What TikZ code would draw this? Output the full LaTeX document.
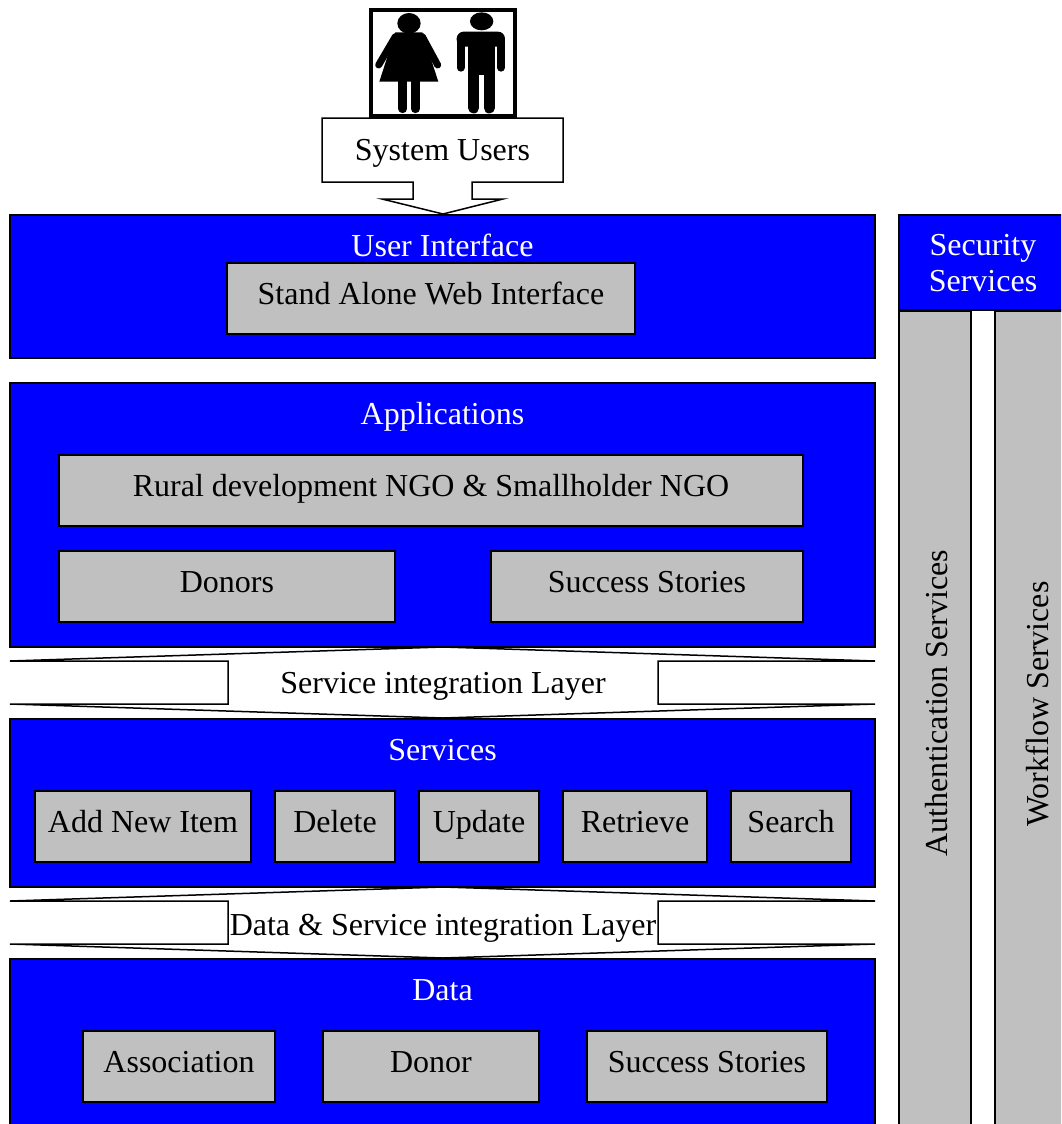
\documentclass[tikz,border=0pt]{standalone}
\usepackage{fontspec}
\setmainfont{Liberation Serif}
\begin{document}
\begin{tikzpicture}[x=1pt, y=-1pt,
    layerbox/.style={draw=black, line width=1.8pt, fill=blue, minimum width=865pt, inner sep=0pt},
    greybox/.style={draw=black, line width=1.8pt, fill=boxgrey, minimum height=71pt, inner sep=0pt, text=black, text height=23pt, text depth=11pt},
    barbox/.style={draw=black, line width=1.8pt, fill=boxgrey, minimum height=830pt, inner sep=0pt},
    arrowshape/.style={draw=black, line width=1.5pt, fill=white, line join=miter},
    layertitle/.style={text=white, inner sep=0pt},
    plaintext/.style={text=black, inner sep=0pt},
    every node/.append style={font=\fontsize{32}{36.5}\selectfont}]
  \definecolor{boxgrey}{HTML}{C0C0C0}
  \useasboundingbox (0,0) rectangle (1061,1124);
  \clip (0,0) rectangle (1061,1124);

  % Users
  \draw[black, line width=4pt, fill=white] (371,10) rectangle (515,116);
  \begin{scope}[shift={(320,0)}, x=0.3333pt, y=-0.3333pt]
    % woman
    \fill[black] (267,70) ellipse [x radius=35, y radius=31];
    \fill[black, line join=round] (226,97) -- (307,97) -- (355,245) -- (178,245) -- cycle;
    \draw[black, line width=7pt, line cap=round] (226,110) -- (176,195);
    \draw[black, line width=7pt, line cap=round] (307,110) -- (353,195);
    \draw[black, line width=9pt, line cap=round] (248.5,240) -- (248.5,326);
    \draw[black, line width=9pt, line cap=round] (286,240) -- (286,326);
    % man
    \fill[black] (485,64) ellipse [x radius=35, y radius=27];
    \fill[black, rounded corners=7pt] (410,140) -- (410,95) -- (555,95) -- (555,140) -- cycle;
    \fill[black] (445,120) rectangle (525,225);
    \draw[black, line width=8pt, line cap=round] (422,125) -- (422,203);
    \draw[black, line width=8pt, line cap=round] (543,125) -- (543,203);
    \draw[black, line width=11pt, line cap=round] (461,215) -- (461,324);
    \draw[black, line width=11pt, line cap=round] (508,215) -- (508,324);
  \end{scope}

  \draw[arrowshape] (322,118) -- (563,118) -- (563,182) -- (472,182) -- (472,199) -- (503,199)
    -- (443,214) -- (382,199) -- (413,199) -- (413,182) -- (322,182) -- cycle;
  \node[plaintext] (users) at (442.5,153) {System Users};

  % Layers
  \node[layerbox, minimum height=143pt] (interface) at (442.5,286.5) {};
  \node[layertitle] (interfacetitle) at (442.5,245) {User Interface};
  \node[greybox, minimum width=408pt] (standalone) at (431,298.5) {Stand Alone Web Interface};

  \node[layerbox, minimum height=264pt] (applications) at (442.5,515) {};
  \node[layertitle] (applicationstitle) at (442.5,417) {Applications};
  \node[greybox, minimum width=744pt] (rural) at (431,490.5) {Rural development NGO \& Smallholder NGO};
  \node[greybox, minimum width=336pt] (donors) at (227,586.5) {Donors};
  \node[greybox, minimum width=312pt] (stories) at (647,586.5) {Success Stories};

  \draw[arrowshape] (10,661) -- (443,647) -- (875,661) -- (658,661) -- (658,704) -- (875,704)
    -- (443,718) -- (10,704) -- (228,704) -- (228,661) -- cycle;
  \node[plaintext] (integration) at (443,686) {Service integration Layer};

  \node[layerbox, minimum height=168pt] (services) at (442.5,803) {};
  \node[layertitle] (servicestitle) at (442.5,750) {Services};
  \node[greybox, minimum width=216pt] (additem) at (143,826.5) {Add New Item};
  \node[greybox, minimum width=120pt] (delete) at (335,826.5) {Delete};
  \node[greybox, minimum width=120pt] (update) at (479,826.5) {Update};
  \node[greybox, minimum width=144pt] (retrieve) at (635,826.5) {Retrieve};
  \node[greybox, minimum width=120pt] (search) at (791,826.5) {Search};

  \draw[arrowshape] (10,901) -- (443,887) -- (875,901) -- (658,901) -- (658,944) -- (875,944)
    -- (443,958) -- (10,944) -- (228,944) -- (228,901) -- cycle;
  \node[plaintext] (dataintegration) at (443,928) {Data \& Service integration Layer};

  \node[layerbox, minimum height=200pt] (data) at (442.5,1059) {};
  \node[layertitle] (datatitle) at (442.5,990) {Data};
  \node[greybox, minimum width=192pt] (association) at (179,1066.5) {Association};
  \node[greybox, minimum width=216pt] (donor) at (431,1066.5) {Donor};
  \node[greybox, minimum width=240pt] (successdata) at (707,1066.5) {Success Stories};

  % Side columns
  \node[barbox, minimum width=72pt] (authbar) at (935,726) {};
  \node[plaintext, rotate=90] (auth) at (937,703) {Authentication Services};
  \node[barbox, minimum width=82pt] (workflowbar) at (1036,726) {};
  \node[plaintext, rotate=90] (workflow) at (1037,704) {Workflow Services};
  \node[layerbox, minimum width=168pt, minimum height=95pt] (security) at (983,262.5) {};
  \node[layertitle, align=center] (securitytitle) at (983,263) {Security\\Services};
\end{tikzpicture}
\end{document}
